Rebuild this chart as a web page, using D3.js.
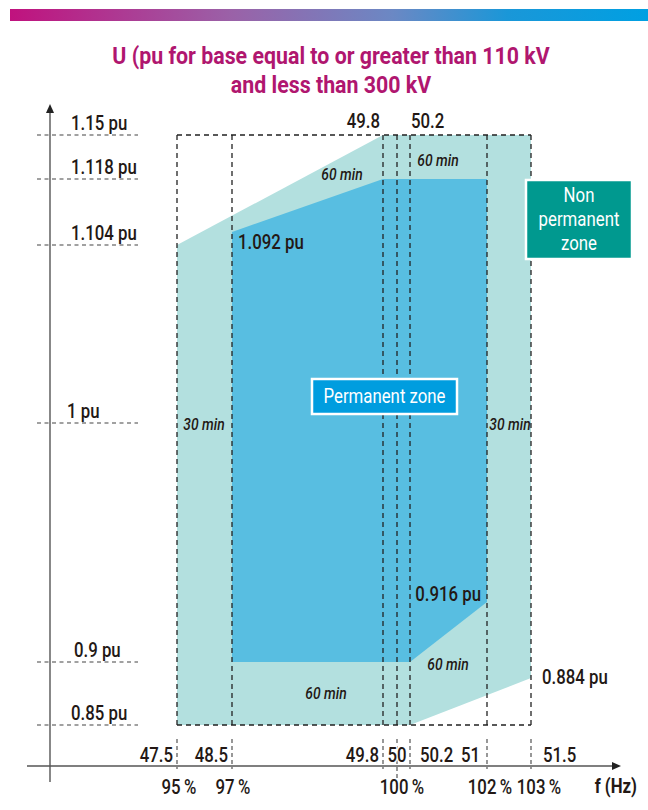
<!DOCTYPE html>
<html>
<head>
<meta charset="utf-8">
<script src="https://cdn.jsdelivr.net/npm/d3@7"></script>
<style>
  html, body { margin: 0; padding: 0; background: #fff; }
  svg { display: block; }
  text { font-family: Roboto, "Liberation Sans", sans-serif; }
</style>
</head>
<body>
<svg id="chart" width="648" height="810" font-weight="500"></svg>
<script>
// Frequency breakpoints (Hz) shown on the horizontal axis
const freqTicks = [47.5, 48.5, 49.8, 50, 50.2, 51, 51.5];
// Percent of nominal frequency shown under the axis
const percentFreqs = [47.5, 48.5, 50, 51, 51.5];
const percentLabels = ["95\u2009%", "97\u2009%", "100\u2009%", "102\u2009%", "103\u2009%"];
// Voltage levels (pu) shown on the vertical axis
const puTicks = [1.15, 1.118, 1.104, 1, 0.9, 0.85];
const puLabels = ["1.15 pu", "1.118 pu", "1.104 pu", "1 pu", "0.9 pu", "0.85 pu"];
// Every voltage level used by the zones (schematic, non-proportional axis)
const puLevels = [0.85, 0.884, 0.9, 0.916, 1, 1.092, 1.104, 1.118, 1.15];

// Zone outlines as (frequency Hz, voltage pu)
const nonPermanentZone = [[47.5, 1.104], [49.8, 1.15], [51.5, 1.15], [51.5, 0.884], [50.2, 0.85], [47.5, 0.85]];
const permanentZone = [[48.5, 1.092], [49.8, 1.118], [51, 1.118], [51, 0.916], [50.2, 0.9], [48.5, 0.9]];

// Corner values called out next to the zones
const cornerFreqs = [48.5, 51, 51.5];
const cornerPu = [1.092, 0.916, 0.884];

const svg = d3.select("#chart");
const ink = "#231815";
const SX = 0.84; // horizontal squeeze giving a condensed face

// Schematic scales: the drawing is not to scale, so each break gets its own position
const x = d3.scaleLinear()
  .domain(freqTicks)
  .range([177, 232, 383, 397, 410, 487, 531]);
const y = d3.scaleOrdinal()
  .domain(puLevels)
  .range([725, 678, 662, 602, 423, 232, 245, 179, 135]);

const at = (px, py, sx = SX) => `translate(${px},${py}) scale(${sx},1)`;
function label(parent, px, py, str, size, anchor, extra) {
  const t = parent.append("text").attr("transform", at(px, py))
    .attr("text-anchor", anchor || "start").attr("font-size", size).attr("fill", ink).text(str);
  if (extra) extra(t);
  return t;
}

// Gradient banner
const defs = svg.append("defs");
const grad = defs.append("linearGradient").attr("id", "banner").attr("x1", "0%").attr("x2", "100%");
[["0%", "#c0127e"], ["35%", "#9a62a8"], ["60%", "#6b88c4"], ["78%", "#1a97d8"], ["100%", "#00a0e2"]]
  .forEach(([o, c]) => grad.append("stop").attr("offset", o).attr("stop-color", c));
svg.append("rect").attr("x", 10).attr("y", 9).attr("width", 638).attr("height", 12).attr("fill", "url(#banner)");

// Title
const title = svg.append("text")
  .attr("transform", at(331, 0, 0.89)).attr("text-anchor", "middle")
  .attr("fill", "#b0166f").attr("font-weight", "bold").attr("font-size", 24);
title.append("tspan").attr("x", 0).attr("y", 64).text("U (pu for base equal to or greater than 110 kV");
title.append("tspan").attr("x", 0).attr("y", 93).text("and less than 300 kV");

// Zones
const line = d3.line().x(d => x(d[0])).y(d => y(d[1]));
svg.append("path").attr("d", line(nonPermanentZone) + "Z").attr("fill", "#b3e0df");
svg.append("path").attr("d", line(permanentZone) + "Z").attr("fill", "#58bee1");

// Axes
const axisColor = "#555";
svg.append("line").attr("x1", 50).attr("x2", 50).attr("y1", 110).attr("y2", 782)
  .attr("stroke", axisColor).attr("stroke-width", 1.4);
svg.append("path").attr("d", "M50,104 L46,113 L54,113 Z").attr("fill", "#222");
svg.append("line").attr("x1", 27).attr("x2", 614).attr("y1", 766).attr("y2", 766)
  .attr("stroke", axisColor).attr("stroke-width", 1.4);
svg.append("path").attr("d", "M621,766 L612,762 L612,770 Z").attr("fill", "#222");

// Horizontal guide lines for the voltage levels
const dash = "4,3.5";
svg.append("g").selectAll("line").data(puTicks).join("line")
  .attr("x1", 37).attr("x2", 138)
  .attr("y1", d => y(d)).attr("y2", d => y(d))
  .attr("stroke", "#444").attr("stroke-width", 1.1).attr("stroke-dasharray", dash);
svg.append("g").selectAll("text").data(puTicks).join("text")
  .attr("transform", d => at(d === 1 ? 67 : d === 0.9 ? 74 : 71, y(d) - 5))
  .attr("font-size", 20).attr("fill", ink)
  .text((d, i) => puLabels[i]);

// Frame of the operating area and frequency breaks
const frame = svg.append("g").attr("stroke", "#222").attr("stroke-width", 1.3).attr("stroke-dasharray", "5,4").attr("fill", "none");
frame.append("line").attr("x1", x(47.5)).attr("x2", x(51.5)).attr("y1", y(1.15)).attr("y2", y(1.15));
frame.append("line").attr("x1", x(47.5)).attr("x2", x(51.5)).attr("y1", y(0.85)).attr("y2", y(0.85));
frame.selectAll(".v").data(freqTicks).join("line").attr("class", "v")
  .attr("x1", d => x(d)).attr("x2", d => x(d))
  .attr("y1", y(1.15)).attr("y2", y(0.85));
// Ticks dropping onto the frequency axis
svg.append("g").selectAll("line").data(freqTicks).join("line")
  .attr("x1", d => x(d)).attr("x2", d => x(d))
  .attr("y1", 739).attr("y2", d => d === 50 ? 779 : 769)
  .attr("stroke", "#444").attr("stroke-width", 1.1).attr("stroke-dasharray", "4,3");

// Frequency labels above the axis
const hzAnchor = { 47.5: "end", 48.5: "end", 49.8: "end", 50: "middle", 50.2: "start", 51: "end", 51.5: "start" };
const hzDx = { 47.5: -4, 48.5: -4, 49.8: -4, 50: 0, 50.2: 10, 51: -7, 51.5: 12 };
svg.append("g").selectAll("text").data(freqTicks).join("text")
  .attr("transform", d => at(x(d) + hzDx[d], 762))
  .attr("text-anchor", d => hzAnchor[d])
  .attr("font-size", 20).attr("fill", ink)
  .attr("paint-order", "stroke").attr("stroke", "#fff").attr("stroke-width", 3)
  .text(d => d3.format("")(d));

// Percent labels below the axis
const pctDx = [2, 1, 5, 3, 8];
svg.append("g").selectAll("text").data(percentFreqs).join("text")
  .attr("transform", (d, i) => at(x(d) + pctDx[i], 794))
  .attr("text-anchor", "middle")
  .attr("font-size", 20).attr("fill", ink)
  .text((d, i) => percentLabels[i]);
label(svg, 637, 793, "f (Hz)", 20, "end", t => t.attr("font-weight", "bold"));

// Frequency labels above the frame
label(svg, x(49.8) - 3, 128, "49.8", 20, "end");
label(svg, x(50.2) + 1, 128, "50.2", 20, "start");

// Corner values
const cornerDx = [6, -6, 11];
const cornerDy = [17, -1, 6];
const cornerAnchor = ["start", "end", "start"];
svg.append("g").selectAll("text").data(cornerPu).join("text")
  .attr("transform", (d, i) => at(x(cornerFreqs[i]) + cornerDx[i], y(d) + cornerDy[i]))
  .attr("text-anchor", (d, i) => cornerAnchor[i])
  .attr("font-size", 20).attr("fill", ink)
  .text(d => d + " pu");

// Time limits for operation outside the permanent zone
const durations = [
  { t: "60 min", x: 342, y: 180 },
  { t: "60 min", x: 438, y: 166 },
  { t: "60 min", x: 326, y: 699 },
  { t: "60 min", x: 448, y: 670 },
  { t: "30 min", x: 204, y: 430 },
  { t: "30 min", x: 510, y: 430 }
];
svg.append("g").selectAll("text").data(durations).join("text")
  .attr("transform", d => at(d.x, d.y)).attr("text-anchor", "middle")
  .attr("font-size", 16.5).attr("font-style", "italic").attr("fill", ink)
  .text(d => d.t);

// Zone name boxes
function badge(cx, top, w, h, fill, lines, size, base, step) {
  svg.append("rect").attr("x", cx - w / 2).attr("y", top).attr("width", w).attr("height", h)
    .attr("fill", fill).attr("stroke", "#fff").attr("stroke-width", 2.5);
  const t = svg.append("text").attr("transform", at(cx, top)).attr("text-anchor", "middle")
    .attr("fill", "#fff").attr("font-size", size).attr("font-weight", 400);
  lines.forEach((l, i) => t.append("tspan").attr("x", 0).attr("y", base + i * step).text(l));
}
badge(384.5, 379, 145, 35, "#009ddf", ["Permanent zone"], 20, 24, 0);
badge(579, 180, 106, 79, "#00998f", ["Non", "permanent", "zone"], 20, 22, 24);
</script>
</body>
</html>
